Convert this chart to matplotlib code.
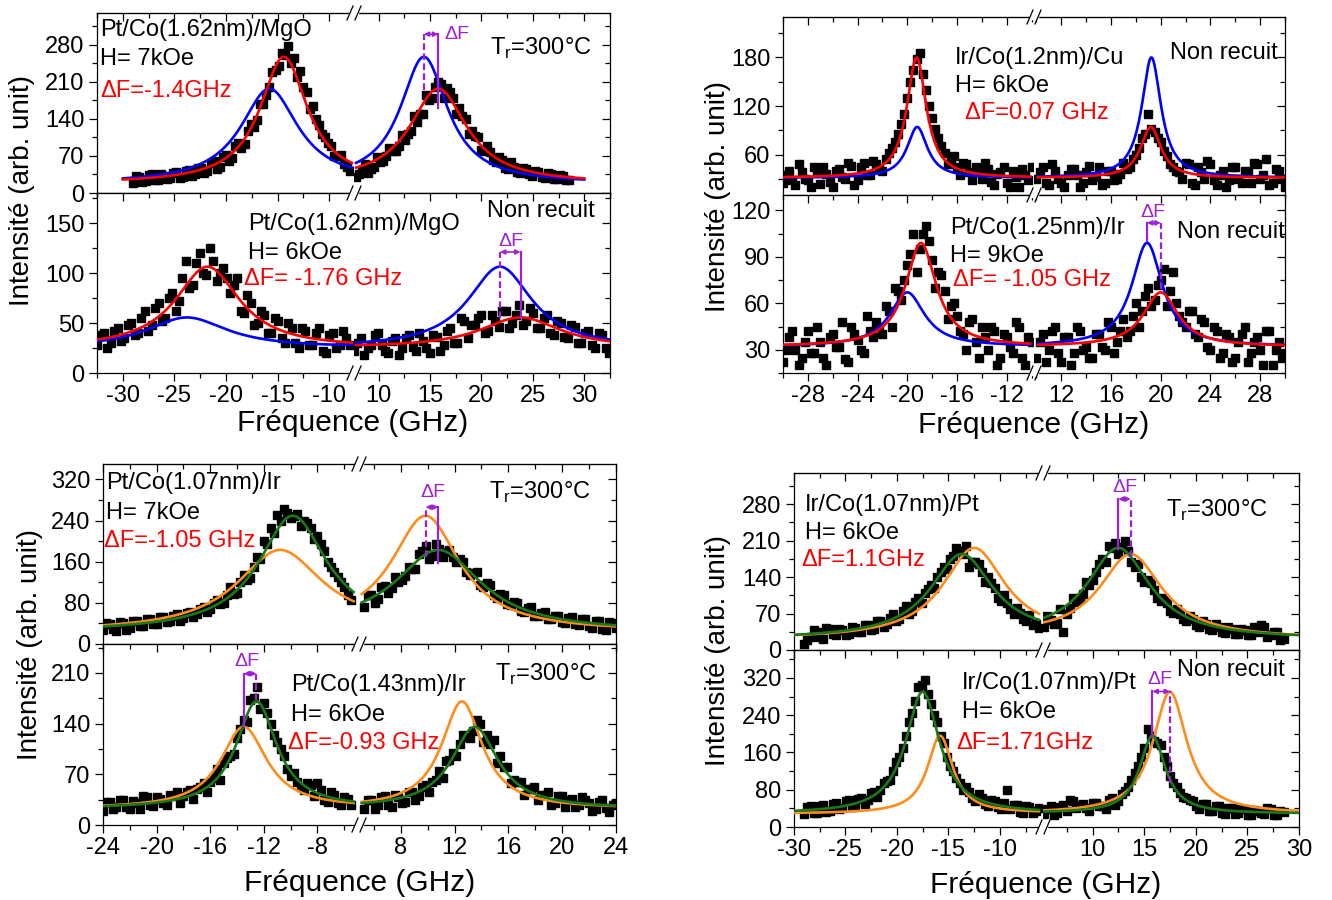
import numpy as np
import matplotlib
matplotlib.use('Agg')
import matplotlib.pyplot as plt
from matplotlib.ticker import MultipleLocator, AutoMinorLocator
from matplotlib.lines import Line2D
from matplotlib.patches import Rectangle

plt.rcParams['font.family'] = ['Liberation Sans', 'DejaVu Sans']
plt.rcParams['axes.unicode_minus'] = False
plt.rcParams['mathtext.fontset'] = 'custom'
plt.rcParams['mathtext.rm'] = 'Liberation Sans'

# --- parametres des ajustements lorentziens : fond, centres (GHz), amplitudes, demi-largeurs
a1_base, a1_centres, a1_amp, a1_larg = 17, [-14.4, 15.8], [238, 178], [2.8, 3.4]
a2_base, a2_centres, a2_amp, a2_larg = 24, [-21.8, 23.8], [82, 31], [3.8, 4.8]
b1_base, b1_centres, b1_amp, b1_larg = 31, [-19.25, 19.2], [149, 63], [0.95, 1.0]
b2_base, b2_centres, b2_amp, b2_larg = 32, [-18.9, 20.0], [67, 35], [1.5, 1.7]
c1_base, c1_centres, c1_amp, c1_larg = 22, [-9.85, 10.8], [222, 156], [3.1, 3.9]
c2_base, c2_centres, c2_amp, c2_larg = 22, [-12.55, 13.5], [148, 113], [1.85, 2.1]
d1_base, d1_centres, d1_amp, d1_larg = 20, [-13.7, 12.5], [161, 173], [3.7, 3.7]
d2_base, d2_centres, d2_amp, d2_larg = 28, [-17.5, 15.8], [262, 167], [2.0, 1.5]

# --- points mesures (intensite) a pas constant ; *_bis = points intercales
a1_left = [18, 30, 22, 35, 24, 33, 28, 40, 30, 44, 36, 48, 42, 60, 50, 72, 66, 95, 92, 130,
           138, 168, 200, 232, 265, 278, 255, 230, 190, 165, 128, 105, 88, 70, 55, 42]
a1_left_bis = [32, 20, 34, 24, 36, 26, 38, 28, 42, 32, 48, 38, 56, 46, 68, 60, 88, 85, 118, 125,
               168, 185, 228, 240, 260, 245, 220, 200, 158, 140, 112, 95, 70, 72, 50]
a1_right = [30, 42, 38, 50, 58, 70, 80, 88, 100, 118, 135, 150, 175, 200, 205, 198, 180, 160, 140, 118,
            105, 80, 78, 58, 62, 45, 50, 38, 45, 32, 40, 28, 35, 26, 32, 24]
a1_right_bis = [36, 55, 45, 68, 60, 85, 80, 110, 112, 145, 150, 185, 180, 210, 180, 190, 150, 145, 112, 108,
                82, 88, 62, 68, 48, 58, 40, 48, 35, 42, 30, 38, 26, 34, 25]
a2_left = [28, 40, 30, 45, 35, 50, 40, 62, 48, 70, 55, 80, 72, 112, 88, 120, 98, 112, 100, 95,
           88, 62, 78, 48, 62, 40, 55, 35, 50, 30, 45, 28, 40, 22, 38, 25, 42, 28]
a2_left_bis = [38, 25, 42, 32, 48, 38, 55, 42, 65, 52, 75, 62, 95, 85, 110, 100, 125, 92, 105, 80,
               95, 60, 70, 50, 58, 40, 52, 30, 45, 25, 42, 28, 45, 20, 40, 28, 35]
a2_right = [22, 35, 25, 38, 28, 20, 35, 25, 38, 22, 32, 20, 36, 28, 45, 30, 52, 48, 55, 40,
            58, 46, 62, 50, 68, 52, 60, 45, 58, 38, 50, 35, 46, 30, 42, 25, 38, 20]
a2_right_bis = [30, 18, 28, 40, 22, 32, 18, 35, 26, 40, 25, 38, 22, 42, 30, 55, 35, 48, 58, 42,
                52, 62, 45, 58, 48, 65, 45, 55, 40, 52, 36, 48, 30, 40, 28, 40, 25]
b1_left = [25, 40, 22, 38, 28, 45, 24, 36, 20, 42, 30, 46, 28, 50, 35, 48, 40, 62, 75, 98,
           130, 165, 185, 140, 105, 80, 62, 55, 45, 50, 38, 44, 30, 42, 22, 38, 25, 40, 20, 35, 45]
b1_left_bis = [35, 28, 48, 30, 20, 38, 44, 26, 40, 32, 50, 22, 45, 35, 52, 42, 55, 68, 85, 110,
               150, 178, 160, 120, 92, 70, 48, 58, 35, 48, 28, 40, 50, 26, 36, 45, 20, 32, 42, 28]
b1_right = [30, 45, 22, 40, 25, 35, 42, 20, 38, 28, 45, 25, 40, 30, 50, 45, 60, 80, 110, 88,
            75, 58, 45, 38, 50, 25, 45, 30, 48, 22, 40, 28, 45, 25, 38, 50, 30, 55, 25, 40, 20]
b1_right_bis = [38, 25, 48, 30, 20, 42, 35, 25, 46, 32, 22, 40, 28, 36, 42, 55, 68, 85, 92, 80,
                65, 48, 40, 30, 48, 22, 38, 52, 28, 35, 20, 45, 30, 40, 25, 48, 35, 22, 42, 30]
b2_left = [22, 38, 30, 25, 42, 28, 35, 20, 40, 32, 24, 45, 36, 28, 42, 48, 40, 55, 70, 62,
           85, 105, 95, 110, 88, 80, 68, 58, 52, 40, 48, 35, 45, 30, 42, 25, 38, 28, 45, 20, 35]
b2_left_bis = [30, 42, 20, 35, 28, 45, 25, 38, 32, 48, 22, 40, 30, 52, 38, 45, 58, 45, 68, 75,
               92, 80, 105, 100, 70, 78, 50, 60, 42, 30, 50, 25, 38, 45, 20, 40, 32, 48, 25, 38]
b2_right = [25, 40, 30, 45, 22, 38, 28, 42, 32, 25, 40, 30, 45, 35, 50, 42, 60, 55, 70, 62,
            75, 58, 80, 52, 45, 55, 38, 48, 30, 42, 28, 38, 25, 40, 22, 35, 30, 42, 20, 35, 28]
b2_right_bis = [35, 22, 42, 28, 38, 20, 45, 30, 25, 40, 32, 48, 28, 42, 38, 52, 45, 65, 58, 72,
                82, 68, 60, 48, 55, 40, 50, 32, 45, 25, 40, 22, 35, 45, 28, 38, 20, 42, 30, 25]
c1_left = [28, 38, 25, 40, 32, 45, 35, 48, 38, 52, 45, 58, 50, 62, 58, 72, 68, 85, 80, 110,
           100, 135, 128, 170, 200, 225, 250, 262, 245, 252, 240, 225, 210, 180, 150, 130, 110, 85]
c1_left_bis = [40, 30, 42, 28, 45, 35, 48, 38, 52, 42, 55, 45, 60, 52, 68, 62, 80, 78, 95, 98,
               120, 125, 150, 165, 195, 215, 240, 255, 248, 230, 235, 205, 195, 160, 140, 120, 95]
c1_right = [72, 95, 88, 112, 108, 120, 132, 145, 175, 190, 172, 185, 178, 170, 165, 140, 138, 115, 118, 95,
            98, 78, 82, 65, 70, 55, 60, 48, 55, 42, 50, 38, 48, 35, 44, 30, 42, 32]
c1_right_bis = [95, 80, 110, 100, 130, 125, 150, 145, 180, 165, 195, 170, 182, 160, 160, 135, 140, 110, 115, 90,
                95, 75, 80, 62, 72, 55, 62, 48, 55, 40, 52, 36, 48, 32, 45, 28, 40]
c2_left = [20, 32, 25, 35, 22, 30, 40, 28, 38, 30, 42, 45, 40, 48, 50, 58, 60, 78, 85, 95,
           120, 145, 172, 190, 168, 140, 115, 95, 68, 60, 48, 55, 58, 35, 45, 30, 38, 28]
c2_left_bis = [32, 22, 35, 25, 33, 22, 38, 26, 36, 28, 40, 30, 45, 36, 52, 45, 65, 62, 92, 98,
               132, 142, 175, 160, 155, 125, 105, 78, 72, 52, 58, 40, 48, 32, 42, 28, 36]
c2_right = [22, 35, 28, 40, 25, 38, 32, 45, 40, 55, 60, 75, 88, 100, 112, 122, 130, 140, 125, 118,
            95, 80, 62, 60, 50, 52, 42, 45, 30, 40, 35, 25, 38, 30, 22, 35, 18, 30]
c2_right_bis = [35, 22, 38, 28, 42, 30, 45, 35, 52, 45, 62, 65, 90, 95, 125, 120, 145, 115, 112, 85,
                80, 58, 60, 42, 50, 35, 42, 28, 40, 25, 36, 28, 35, 20, 32, 24, 28]
d1_left = [12, 25, 35, 22, 40, 28, 38, 30, 42, 35, 48, 40, 55, 50, 70, 60, 85, 75, 100, 110,
           125, 140, 160, 175, 195, 185, 160, 170, 150, 140, 120, 95, 90, 70, 72, 55, 48, 42]
d1_left_bis = [20, 38, 25, 42, 30, 40, 28, 45, 35, 48, 38, 55, 45, 62, 55, 75, 70, 92, 90, 118,
               120, 150, 155, 180, 190, 200, 170, 165, 130, 128, 100, 105, 78, 80, 60, 68, 50]
d1_right = [45, 58, 52, 35, 80, 92, 108, 125, 150, 175, 200, 205, 198, 190, 160, 140, 135, 115, 95, 90,
            72, 70, 55, 60, 45, 50, 38, 45, 32, 40, 30, 38, 28, 35, 45, 28, 35, 22]
d1_right_bis = [65, 50, 78, 70, 100, 98, 130, 135, 165, 170, 195, 185, 210, 170, 165, 130, 128, 100, 100, 75,
                78, 60, 65, 48, 55, 40, 50, 35, 45, 30, 40, 28, 45, 48, 25, 35, 20]
d2_left = [28, 45, 30, 48, 35, 52, 40, 58, 45, 62, 58, 75, 80, 98, 120, 150, 195, 245, 300, 315,
           265, 225, 180, 130, 105, 80, 75, 55, 62, 45, 55, 38, 80, 48, 32, 45, 30, 40]
d2_left_bis = [42, 30, 45, 32, 50, 38, 55, 42, 60, 50, 72, 65, 95, 100, 140, 170, 225, 270, 305, 285,
               240, 195, 150, 120, 95, 85, 62, 70, 50, 58, 42, 52, 38, 48, 30, 42, 35]
d2_right = [28, 45, 30, 48, 58, 40, 50, 35, 52, 45, 58, 48, 70, 85, 115, 150, 210, 185, 175, 130,
            95, 72, 62, 55, 38, 50, 35, 45, 28, 40, 30, 38, 25, 35, 28, 38, 25, 32]
d2_right_bis = [38, 25, 42, 35, 55, 48, 40, 52, 45, 38, 62, 55, 78, 100, 130, 170, 195, 180, 150, 110,
                85, 65, 58, 45, 50, 35, 45, 30, 40, 28, 38, 26, 36, 30, 40, 25, 35]

# plages de frequence des mesures (GHz)
a1_span = [(-29, -8), (7.8, 28.5)]
a2_span = [(-32.5, -8), (7.6, 32.4)]
b_span = [(-30, -10), (10, 30)]
c_span = [(-24, -5.5), (5.3, 24)]
d_span = [(-29, -6.2), (5.3, 28.5)]

W, H = 1332, 900
PURPLE = '#a020d8'
GREEN = '#1a7a1a'
ORANGE = '#ff8c1a'
fig = plt.figure(figsize=(W / 100, H / 100), dpi=100)


def lorentz(x, base, centres, amps, larg):
    y = np.full(len(x), float(base))
    for c, a, g in zip(centres, amps, larg):
        y += a / (1 + ((x - c) / g) ** 2)
    return y


def box(l, r, t, b):
    return [l / W, 1 - b / H, (r - l) / W, (b - t) / H]


def brk(xp, yp):
    fig.add_artist(Rectangle(((xp - 4) / W, 1 - (yp + 2) / H), 8 / W, 4 / H,
                             transform=fig.transFigure, color='white', zorder=5))
    for dx in (-4, 4):
        fig.add_artist(Line2D([(xp + dx - 3) / W, (xp + dx + 3) / W], [1 - (yp + 7) / H, 1 - (yp - 7) / H],
                              transform=fig.transFigure, color='k', lw=0.9, zorder=6))


def sub(L, K, R, T, B, xlims, xstep, ylim, ystep, labels):
    axl = fig.add_axes(box(L, K, T, B))
    axr = fig.add_axes(box(K, R, T, B), sharey=axl)
    axl.set_xlim(*xlims[0])
    axr.set_xlim(*xlims[1])
    axl.set_ylim(*ylim)
    for ax in (axl, axr):
        ax.xaxis.set_major_locator(MultipleLocator(xstep))
        ax.xaxis.set_minor_locator(AutoMinorLocator(2))
        ax.tick_params(axis='x', which='both', direction='out', top=False, labelbottom=labels,
                       labelsize=17, pad=3)
        ax.tick_params(which='major', length=6, width=0.9)
        ax.tick_params(which='minor', length=3.5, width=0.9)
        top = ax.secondary_xaxis('top')
        top.xaxis.set_major_locator(MultipleLocator(xstep))
        top.xaxis.set_minor_locator(AutoMinorLocator(2))
        top.tick_params(which='both', direction='in', labeltop=False, width=0.9)
        top.tick_params(which='major', length=6)
        top.tick_params(which='minor', length=3.5)
        for s in ax.spines.values():
            s.set_linewidth(0.9)
    axl.spines['right'].set_visible(False)
    axr.spines['left'].set_visible(False)
    axl.yaxis.set_major_locator(MultipleLocator(ystep))
    axl.yaxis.set_minor_locator(AutoMinorLocator(2))
    axl.tick_params(axis='y', which='both', direction='out', left=True, right=False, labelsize=17, pad=3)
    axr.tick_params(axis='y', which='both', direction='in', left=False, right=True,
                    labelleft=False, labelright=False)
    return axl, axr


def tracer(axl, axr, spans, ys, ys_bis, curve_spans, par, c_fit, c_mir):
    base, centres, amps, larg = par
    for ax, (x0, x1), y, yb, (cx0, cx1) in zip((axl, axr), spans, ys, ys_bis, curve_spans):
        x = np.linspace(x0, x1, len(y))
        xm = (x[:-1] + x[1:]) / 2
        ax.plot(x, y, 's', color='k', ms=5.5, mec='k', zorder=2)
        ax.plot(xm[:len(yb)], yb, 's', color='k', ms=5.5, mec='k', zorder=2)
        xc = np.linspace(cx0, cx1, 400)
        ax.plot(xc, lorentz(-xc, base, centres, amps, larg), color=c_mir, lw=1.9, zorder=3)
        ax.plot(xc, lorentz(xc, base, centres, amps, larg), color=c_fit, lw=1.9, zorder=4)


def delta_f(ax, xs, ys, xd, yd, ya, xt, yt):
    ax.plot([xs, xs], [ys, ya], color=PURPLE, lw=1.6, zorder=5)
    ax.plot([xd, xd], [yd, ya], color=PURPLE, lw=1.6, ls=(0, (3, 1.5)), zorder=5)
    ax.annotate('', xy=(xs, ya), xytext=(xd, ya),
                arrowprops=dict(arrowstyle='<|-|>', color=PURPLE, lw=1.2, mutation_scale=7,
                                shrinkA=0, shrinkB=0), zorder=5)
    ax.text(xt, yt, 'ΔF', color=PURPLE, fontsize=14, ha='center', va='center')


def txt(x, y, s, color='k'):
    fig.text(x / W, 1 - y / H, s, fontsize=17, color=color, ha='left', va='center')


TR = 'T$_\\mathregular{r}$=300°C'

# ---------------- panneau A : Pt/Co(1.62nm)/MgO
xa = [(-32.5, -7.6), (7.6, 32.5)]
ax1, ax2 = sub(97, 354, 610, 13, 193, xa, 5, (0, 340), 70, False)
tracer(ax1, ax2, a1_span, [a1_left, a1_right], [a1_left_bis, a1_right_bis], [(-30, -7.8), (7.8, 30)],
       (a1_base, a1_centres, a1_amp, a1_larg), 'red', 'blue')
delta_f(ax2, a1_centres[1], 160, -a1_centres[0], 195, 300, 17.6, 299)
ax3, ax4 = sub(97, 354, 610, 193, 373, xa, 5, (0, 180), 50, True)
tracer(ax3, ax4, a2_span, [a2_left, a2_right], [a2_left_bis, a2_right_bis], [(-32.5, -7.8), (7.8, 32.5)],
       (a2_base, a2_centres, a2_amp, a2_larg), 'red', 'blue')
delta_f(ax4, a2_centres[1], 55, -a2_centres[0], 55, 121, 22.9, 132)
for yp in (13, 193, 373):
    brk(354, yp)
txt(100, 30, 'Pt/Co(1.62nm)/MgO')
txt(100, 59, 'H= 7kOe')
txt(100, 91, 'ΔF=-1.4GHz', 'red')
txt(490, 48, TR)
txt(487, 211, 'Non recuit')
txt(248, 224, 'Pt/Co(1.62nm)/MgO')
txt(248, 253, 'H= 6kOe')
txt(244, 279, 'ΔF= -1.76 GHz', 'red')

# ---------------- panneau B : Ir/Co/Cu et Pt/Co/Ir
xb = [(-30, -9.8), (9.8, 30)]
ax1, ax2 = sub(783, 1034, 1285, 17, 195, xb, 4, (10, 230), 60, False)
tracer(ax1, ax2, b_span, [b1_left, b1_right], [b1_left_bis, b1_right_bis], [(-30, -10.1), (10.1, 30)],
       (b1_base, b1_centres, b1_amp, b1_larg), 'red', 'blue')
ax3, ax4 = sub(783, 1034, 1285, 195, 373, xb, 4, (15, 130), 30, True)
tracer(ax3, ax4, b_span, [b2_left, b2_right], [b2_left_bis, b2_right_bis], [(-30, -10.1), (10.1, 30)],
       (b2_base, b2_centres, b2_amp, b2_larg), 'red', 'blue')
delta_f(ax4, -b2_centres[0], 100, b2_centres[1], 69, 112, 19.4, 119)
for yp in (17, 195, 373):
    brk(1034, yp)
txt(955, 58, 'Ir/Co(1.2nm)/Cu')
txt(955, 86, 'H= 6kOe')
txt(965, 113, 'ΔF=0.07 GHz', 'red')
txt(1170, 53, 'Non recuit')
txt(950, 228, 'Pt/Co(1.25nm)/Ir')
txt(950, 256, 'H= 9kOe')
txt(953, 280, 'ΔF= -1.05 GHz', 'red')
txt(1177, 232, 'Non recuit')

# ---------------- panneau C : Pt/Co/Ir recuit
xc_ = [(-24, -4.9), (4.9, 24)]
ax1, ax2 = sub(103, 359, 616, 464, 644, xc_, 4, (0, 350), 80, False)
tracer(ax1, ax2, c_span, [c1_left, c1_right], [c1_left_bis, c1_right_bis], [(-24, -5.3), (5.1, 24)],
       (c1_base, c1_centres, c1_amp, c1_larg), GREEN, ORANGE)
delta_f(ax2, c1_centres[1], 157, -c1_centres[0], 170, 266, 10.4, 294)
ax3, ax4 = sub(103, 359, 616, 644, 825, xc_, 4, (0, 250), 70, True)
tracer(ax3, ax4, c_span, [c2_left, c2_right], [c2_left_bis, c2_right_bis], [(-24, -5.3), (5.1, 24)],
       (c2_base, c2_centres, c2_amp, c2_larg), GREEN, ORANGE)
delta_f(ax3, -c2_centres[1], 135, c2_centres[0], 172, 209, -13.25, 226)
for yp in (464, 644, 825):
    brk(359, yp)
txt(106, 483, 'Pt/Co(1.07nm)/Ir')
txt(106, 513, 'H= 7kOe')
txt(104, 541, 'ΔF=-1.05 GHz', 'red')
txt(489, 492, TR)
txt(495, 674, TR)
txt(291, 685, 'Pt/Co(1.43nm)/Ir')
txt(291, 715, 'H= 6kOe')
txt(288, 743, 'ΔF=-0.93 GHz', 'red')

# ---------------- panneau D : Ir/Co/Pt
xd = [(-30, -5.8), (5.2, 30)]
ax1, ax2 = sub(794, 1043, 1299, 473, 650, xd, 5, (0, 340), 70, False)
tracer(ax1, ax2, d_span, [d1_left, d1_right], [d1_left_bis, d1_right_bis], [(-30, -6.2), (5.3, 30)],
       (d1_base, d1_centres, d1_amp, d1_larg), GREEN, ORANGE)
delta_f(ax2, d1_centres[1], 194, -d1_centres[0], 178, 290, 13.1, 313)
ax3, ax4 = sub(794, 1043, 1299, 650, 827, xd, 5, (0, 380), 80, True)
tracer(ax3, ax4, d_span, [d2_left, d2_right], [d2_left_bis, d2_right_bis], [(-30, -6.2), (5.3, 30)],
       (d2_base, d2_centres, d2_amp, d2_larg), GREEN, ORANGE)
delta_f(ax4, d2_centres[1], 194, -d2_centres[0], 94, 291, 16.5, 316)
for yp in (473, 650, 827):
    brk(1043, yp)
txt(805, 505, 'Ir/Co(1.07nm)/Pt')
txt(805, 533, 'H= 6kOe')
txt(801, 560, 'ΔF=1.1GHz', 'red')
txt(1166, 510, TR)
txt(1177, 670, 'Non recuit')
txt(962, 683, 'Ir/Co(1.07nm)/Pt')
txt(962, 712, 'H= 6kOe')
txt(956, 743, 'ΔF=1.71GHz', 'red')

# titres d'axes
for (xp, yp) in [(22, 190), (718, 197), (30, 644), (718, 650)]:
    fig.text(xp / W, 1 - yp / H, 'Intensité (arb. unit)', rotation=90, fontsize=20,
             ha='center', va='center')
for (xp, yp) in [(353, 423), (1034, 425), (360, 883), (1046, 885)]:
    fig.text(xp / W, 1 - yp / H, 'Fréquence (GHz)', fontsize=21.5, ha='center', va='center')

fig.savefig('out.png', dpi=100)
